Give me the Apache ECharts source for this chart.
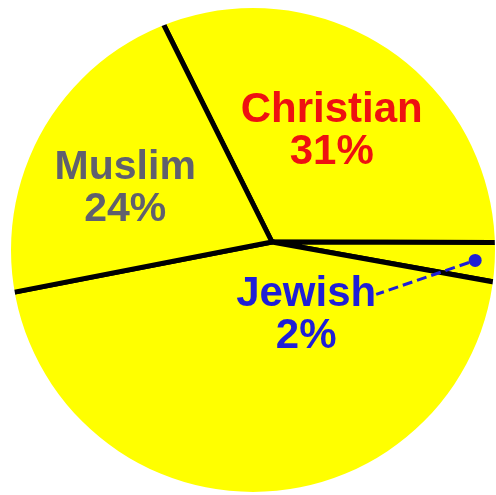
<!DOCTYPE html>
<html>
<head>
<meta charset="utf-8">
<script src="https://cdn.jsdelivr.net/npm/echarts@6/dist/echarts.min.js"></script>
<style>
  html, body { margin: 0; padding: 0; background: #fff; }
  #chart { width: 496px; height: 495px; }
</style>
</head>
<body>
<div id="chart"></div>
<script>
// slices listed clockwise, starting at the spoke that points up-left
const religions = ['Christian', 'Jewish', 'Other', 'Muslim'];
// share of the circle each slice takes, as drawn
const sliceShares = [32.4, 2.8, 44.1, 20.7];
// percentages printed on the chart (Other carries no label)
const printedPercent = [31, 2, null, 24];

const labelColor = { Christian: '#ee1111', Jewish: '#1f1fd6', Muslim: '#60606e' };
const labelSize = { Christian: 42, Jewish: 42, Muslim: 41 };
const labelOffset = { Christian: [-13, 7], Muslim: [-23, 8] };

const hub = [272, 242];       // where the spokes meet
const startAngle = 116.5;
const font = '"Liberation Sans", Arial, sans-serif';

const total = sliceShares.reduce((a, b) => a + b, 0);
const jewishIdx = religions.indexOf('Jewish');
let before = 0;
for (let i = 0; i < jewishIdx; i++) before += sliceShares[i];
const jewishMid = before + sliceShares[jewishIdx] / 2;

function labelText(i) {
  return religions[i] + '\n' + printedPercent[i] + '%';
}

const pieData = religions.map(function (name, i) {
  const item = { name: name, value: sliceShares[i] };
  if (labelOffset[name]) {
    item.label = {
      show: true,
      position: 'inside',
      formatter: labelText(i),
      color: labelColor[name],
      fontSize: labelSize[name],
      lineHeight: 42,
      offset: labelOffset[name]
    };
  }
  return item;
});

const chart = echarts.init(document.getElementById('chart'), null, { renderer: 'canvas' });
chart.setOption({
  backgroundColor: '#ffffff',
  animation: false,
  polar: { center: hub, radius: 204 },
  angleAxis: { type: 'value', min: 0, max: total, startAngle: startAngle, clockwise: true, show: false },
  radiusAxis: { type: 'value', min: 0, max: 1, show: false },
  series: [
    {
      type: 'pie',
      z: 2,
      silent: true,
      center: hub,
      radius: 270,
      startAngle: startAngle,
      clockwise: true,
      avoidLabelOverlap: false,
      itemStyle: { color: '#ffff00', borderColor: '#000000', borderWidth: 5 },
      label: { show: false, fontFamily: font, fontWeight: 'bold' },
      labelLine: { show: false },
      emphasis: { disabled: true },
      data: pieData
    },
    {
      // white ring that trims the yellow disc and the spokes to the circle
      type: 'pie',
      z: 3,
      silent: true,
      center: [253, 250],
      radius: [242, 900],
      itemStyle: { color: '#ffffff', borderWidth: 0 },
      label: { show: false },
      labelLine: { show: false },
      emphasis: { disabled: true },
      data: [{ value: 1 }]
    },
    {
      type: 'scatter',
      coordinateSystem: 'polar',
      z: 4,
      silent: true,
      symbol: 'circle',
      symbolSize: 13,
      itemStyle: { color: labelColor.Jewish, opacity: 1 },
      label: {
        show: true,
        position: 'inside',
        // empty first line keeps the leader line level with "Jewish"
        formatter: '\n' + labelText(jewishIdx),
        color: labelColor.Jewish,
        fontFamily: font,
        fontWeight: 'bold',
        fontSize: labelSize.Jewish,
        lineHeight: 42,
        opacity: 1
      },
      labelLine: {
        show: true,
        length2: 0,
        lineStyle: { color: labelColor.Jewish, width: 3, type: [10, 5], opacity: 1 }
      },
      labelLayout: { dx: -169, dy: 34 },
      emphasis: { disabled: true },
      data: [[1, jewishMid]]
    }
  ]
});
</script>
</body>
</html>
